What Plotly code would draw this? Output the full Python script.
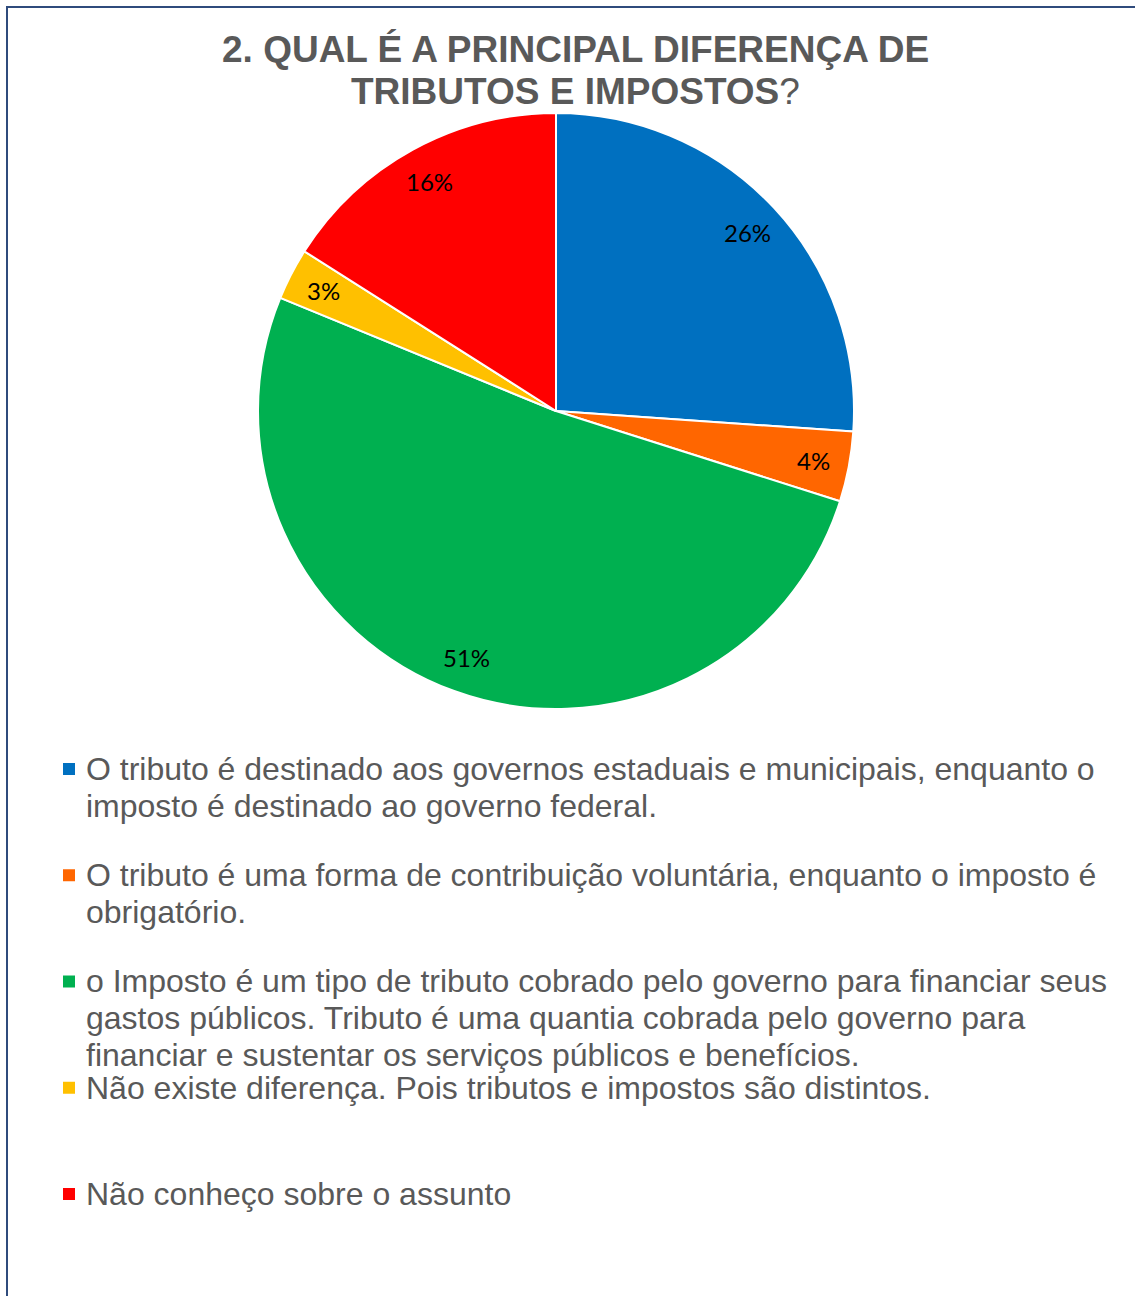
import math
import plotly.graph_objects as go

W, H = 1135, 1296

categories = [
    "O tributo é destinado aos governos estaduais e municipais, enquanto o<br>imposto é destinado ao governo federal.",
    "O tributo é uma forma de contribuição voluntária, enquanto o imposto é<br>obrigatório.",
    "o Imposto é um tipo de tributo cobrado pelo governo para financiar seus<br>gastos públicos. Tributo é uma quantia cobrada pelo governo para<br>financiar e sustentar os serviços públicos e benefícios.",
    "Não existe diferença. Pois tributos e impostos são distintos.",
    "Não conheço sobre o assunto",
]
values = [26.1, 3.8, 51.3, 2.8, 16.0]
colors = ["#0070C0", "#FF6600", "#00B050", "#FFC000", "#FF0000"]
title_line1 = "2. QUAL É A PRINCIPAL DIFERENÇA DE"
title_line2_bold = "TRIBUTOS E IMPOSTOS"
title_line2_tail = "?"

# pie geometry in pixels
cx, cy, R = 556, 411, 298


def px(x):
    return x / W


def py(y):
    return 1 - y / H


fig = go.Figure()
fig.add_trace(go.Pie(
    labels=[c.replace("<br>", " ") for c in categories],
    values=values,
    marker=dict(colors=colors, line=dict(color="white", width=2)),
    sort=False,
    direction="clockwise",
    rotation=0,
    textinfo="none",
    hoverinfo="label+percent",
    showlegend=False,
    domain=dict(x=[px(cx - R), px(cx + R)], y=[py(cy + R), py(cy - R)]),
))

annotations = []
shapes = []

# percentage labels at slice mid-angles
total = sum(values)
cum = 0.0
for v in values:
    mid = (cum + v / 2) / total * 2 * math.pi
    cum += v
    rl = 0.88 * R
    lx = cx + rl * math.sin(mid)
    ly = cy - rl * math.cos(mid)
    annotations.append(dict(
        x=px(lx), y=py(ly), xref="paper", yref="paper",
        text=f"{round(v / total * 100):d}%", showarrow=False,
        xanchor="center", yanchor="middle",
        font=dict(family="Lato, Carlito, Calibri, sans-serif", size=24, color="black"),
    ))

# title
title_font = dict(family="Liberation Sans, Arial, sans-serif", size=37, color="#595959")
annotations.append(dict(
    x=px(575), y=py(50), xref="paper", yref="paper", showarrow=False,
    text=f"<b>{title_line1}</b>", xanchor="center", yanchor="middle", font=title_font,
))
annotations.append(dict(
    x=px(575), y=py(92), xref="paper", yref="paper", showarrow=False,
    text=f"<b>{title_line2_bold}</b>{title_line2_tail}", xanchor="center", yanchor="middle",
    font=title_font,
))

# custom legend
leg_font = dict(family="Liberation Sans, Arial, sans-serif", size=32, color="#595959")
item_y0, item_step, line_step = 769, 106.25, 36.7
for i, (lab, col) in enumerate(zip(categories, colors)):
    y0 = item_y0 + i * item_step
    shapes.append(dict(
        type="rect", xref="paper", yref="paper",
        x0=px(63), x1=px(75), y0=py(y0 - 6), y1=py(y0 + 6),
        fillcolor=col, line=dict(width=0),
    ))
    for j, line in enumerate(lab.split("<br>")):
        annotations.append(dict(
            x=px(84), y=py(y0 + j * line_step), xref="paper", yref="paper",
            text=line, showarrow=False, xanchor="left", yanchor="middle",
            font=leg_font,
        ))

# chart area border
shapes.append(dict(
    type="rect", xref="paper", yref="paper",
    x0=px(7), x1=px(W + 20), y0=py(H + 20), y1=py(7),
    line=dict(color="#2F4B7C", width=2), fillcolor="rgba(0,0,0,0)",
))

fig.update_layout(
    width=W, height=H,
    margin=dict(l=0, r=0, t=0, b=0),
    paper_bgcolor="white", plot_bgcolor="white",
    annotations=annotations, shapes=shapes,
)

fig.write_html("out.html")
